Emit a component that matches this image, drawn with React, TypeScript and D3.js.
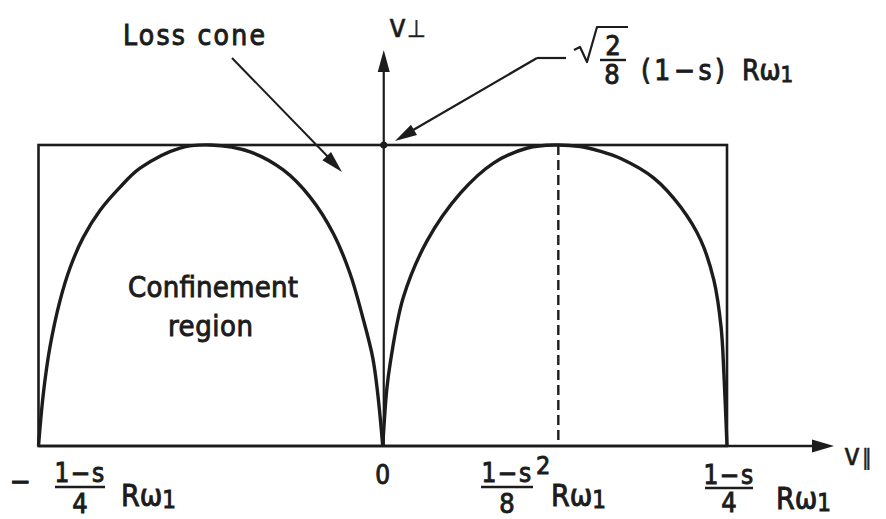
import React from 'react';
import * as d3 from 'd3';

// Boundary of the confinement region, v∥ in units of (1−s)Rω₁/4,
// v⊥ in units of √2(1−s)Rω₁/8.
const leftLobeVPar = [-1, -0.986, -0.967, -0.9375, -0.908, -0.87, -0.821, -0.763, -0.705, -0.589, -0.5, -0.385, -0.289, -0.211, -0.144, -0.095, -0.058, -0.029, -0.0145, 0];
const leftLobeVPerp = [0, 0.173, 0.327, 0.483, 0.593, 0.693, 0.783, 0.86, 0.923, 0.99, 1.0, 0.977, 0.917, 0.827, 0.707, 0.573, 0.427, 0.293, 0.173, 0];
const rightLobeVPar = [0, 0.0115, 0.0218, 0.0596, 0.1295, 0.2256, 0.3217, 0.4207, 0.5, 0.574, 0.63, 0.6914, 0.7875, 0.866, 0.924, 0.962, 0.983, 0.991, 1];
const rightLobeVPerp = [0, 0.186, 0.276, 0.493, 0.683, 0.84, 0.94, 0.99, 1.0, 0.995, 0.98, 0.955, 0.89, 0.793, 0.683, 0.55, 0.393, 0.24, 0];

// Dashed marker under the right-hand maximum
const peakMarkVPar = 0.51;

// Axis bounds (box edges)
const vParBounds = [-1, 1];
const vPerpMax = 1;

// Tick labels along v∥
const tickVPar = [-1, 0.51, 1];
const tickNumerators = ['1−s', '1−s', '1−s'];
const tickDenominators = ['4', '8', '4'];

const W = 886;
const H = 519;
const INK = '#1c1c1c';
const FONT = "'DejaVu Sans Condensed', 'DejaVu Sans', 'Noto Sans', sans-serif";

// lettering: regular glyphs thickened slightly with an outline
const letter = { fill: INK, stroke: INK, strokeWidth: 0.9 } as const;

function arrowHead(tipX: number, tipY: number, fromX: number, fromY: number, len: number, half: number) {
  const dx = tipX - fromX;
  const dy = tipY - fromY;
  const d = Math.hypot(dx, dy);
  const ux = dx / d;
  const uy = dy / d;
  const bx = tipX - ux * len;
  const by = tipY - uy * len;
  const px = -uy;
  const py = ux;
  return `M${tipX},${tipY}L${bx + px * half},${by + py * half}L${bx - px * half},${by - py * half}Z`;
}

export default function App() {
  const x = d3.scaleLinear().domain([-1, 1]).range([38.5, 727]);
  const y = d3.scaleLinear().domain([0, 1]).range([446, 145]);

  const line = d3
    .line<[number, number]>()
    .x((d) => x(d[0]))
    .y((d) => y(d[1]))
    .curve(d3.curveCatmullRom.alpha(0.5));

  const leftPts = leftLobeVPar.map((v, i) => [v, leftLobeVPerp[i]] as [number, number]);
  const rightPts = rightLobeVPar.map((v, i) => [v, rightLobeVPerp[i]] as [number, number]);

  const x0 = x(0);
  const yBase = y(0);
  const yTop = y(vPerpMax);

  // axis arrow tips
  const vAxisTip = 50;
  const hAxisTip = 834;

  // numerator / denominator layout for each tick
  const tickLayout = [
    { cx: 80, numY: 482, barY: 487, barHalf: 25, denY: 513, rx: 121, rY: 506 },
    { cx: 507, numY: 482, barY: 487, barHalf: 26, denY: 513, rx: 551, rY: 506 },
    { cx: 729, numY: 484, barY: 488, barHalf: 24, denY: 512, rx: 776, rY: 509 },
  ];

  return (
    <div style={{ position: 'absolute', left: 0, top: 0 }}>
      <svg width={W} height={H} style={{ display: 'block', background: '#ffffff' }} fontFamily={FONT}>
        <rect x={0} y={0} width={W} height={H} fill="#ffffff" />

        {/* bounding box */}
        <rect
          x={x(vParBounds[0])}
          y={yTop}
          width={x(vParBounds[1]) - x(vParBounds[0])}
          height={yBase - yTop}
          fill="none"
          stroke={INK}
          strokeWidth={2.6}
        />

        {/* dashed marker */}
        <line
          x1={x(peakMarkVPar)}
          x2={x(peakMarkVPar)}
          y1={yTop}
          y2={yBase}
          stroke={INK}
          strokeWidth={2.4}
          strokeDasharray="10 5"
        />

        {/* v∥ axis */}
        <line x1={x(vParBounds[0])} x2={hAxisTip - 18} y1={yBase} y2={yBase} stroke={INK} strokeWidth={2.4} />
        <path d={arrowHead(hAxisTip, yBase, x0, yBase, 22, 6.5)} fill={INK} />

        {/* v⊥ axis */}
        <line x1={x0 + 1} x2={x0 + 1} y1={yBase} y2={vAxisTip + 18} stroke={INK} strokeWidth={2.2} />
        <path d={arrowHead(x0 + 1, vAxisTip, x0 + 1, yBase, 22, 6)} fill={INK} />

        {/* boundary curves */}
        <path d={line(leftPts) || ''} fill="none" stroke={INK} strokeWidth={3.4} strokeLinejoin="round" />
        <path d={line(rightPts) || ''} fill="none" stroke={INK} strokeWidth={3.4} strokeLinejoin="round" />

        {/* maximum point on the v⊥ axis */}
        <circle cx={x0 + 1} cy={yTop} r={3.5} fill={INK} />

        {/* axis names */}
        <text x={389} y={37} fontSize={32} {...letter} strokeWidth={0.5}>
          v<tspan fontSize={24} dx={1}>⊥</tspan>
        </text>
        <text x={844} y={465} fontSize={30} {...letter} strokeWidth={0.5}>
          v<tspan fontSize={22} dx={2}>∥</tspan>
        </text>

        {/* origin */}
        <text x={x0} y={484} fontSize={26} {...letter} textAnchor="middle">0</text>

        {/* leading minus on the left tick */}
        <text x={20} y={491} fontSize={28} {...letter} textAnchor="middle">−</text>

        {tickVPar.map((v, i) => {
          const L = tickLayout[i];
          return (
            <g key={v}>
              <text x={L.cx} y={L.numY} fontSize={26} {...letter} textAnchor="middle" letterSpacing={1.5}>
                {tickNumerators[i]}
              </text>
              {i === 1 && (
                <text x={L.cx + 29} y={474} fontSize={25} {...letter}>2</text>
              )}
              <line x1={L.cx - L.barHalf} x2={L.cx + L.barHalf} y1={L.barY} y2={L.barY} stroke={INK} strokeWidth={2.4} />
              <text x={L.cx} y={L.denY} fontSize={27} {...letter} textAnchor="middle">
                {tickDenominators[i]}
              </text>
              <text x={L.rx} y={L.rY} fontSize={30} {...letter}>
                Rω<tspan fontSize={24} dy={2}>1</tspan>
              </text>
            </g>
          );
        })}

        {/* maximum label with leader */}
        <path d="M574,50 L580,47 L587,62 L597,27 L628,27" fill="none" stroke={INK} strokeWidth={2.2} strokeLinejoin="round" />
        <text x={613} y={55} fontSize={27} {...letter} textAnchor="middle">2</text>
        <line x1={600} x2={626} y1={60} y2={60} stroke={INK} strokeWidth={2.4} />
        <text x={612} y={84} fontSize={27} {...letter} textAnchor="middle">8</text>
        <text x={641} y={80} fontSize={28} {...letter} letterSpacing={3.5}>(1−s)</text>
        <text x={742} y={80} fontSize={28} {...letter}>
          Rω<tspan fontSize={22} dy={2}>1</tspan>
        </text>
        <line x1={566} x2={537} y1={58} y2={58} stroke={INK} strokeWidth={2.2} />
        <line x1={537} y1={58} x2={408} y2={133} stroke={INK} strokeWidth={2.2} />
        <path d={arrowHead(395, 141, 537, 58, 22, 6)} fill={INK} />

        {/* region labels */}
        <text x={123} y={45} fontSize={28} {...letter} textLength={142} lengthAdjust="spacing">
          Loss cone
        </text>
        <line x1={232} y1={58} x2={333} y2={162} stroke={INK} strokeWidth={2} />
        <path d={arrowHead(342, 172, 232, 58, 22, 6)} fill={INK} />

        <text x={128} y={297} fontSize={29} {...letter} textLength={170} lengthAdjust="spacing">
          Confinement
        </text>
        <text x={168} y={336} fontSize={29} {...letter} textLength={85} lengthAdjust="spacing">
          region
        </text>
      </svg>
    </div>
  );
}
